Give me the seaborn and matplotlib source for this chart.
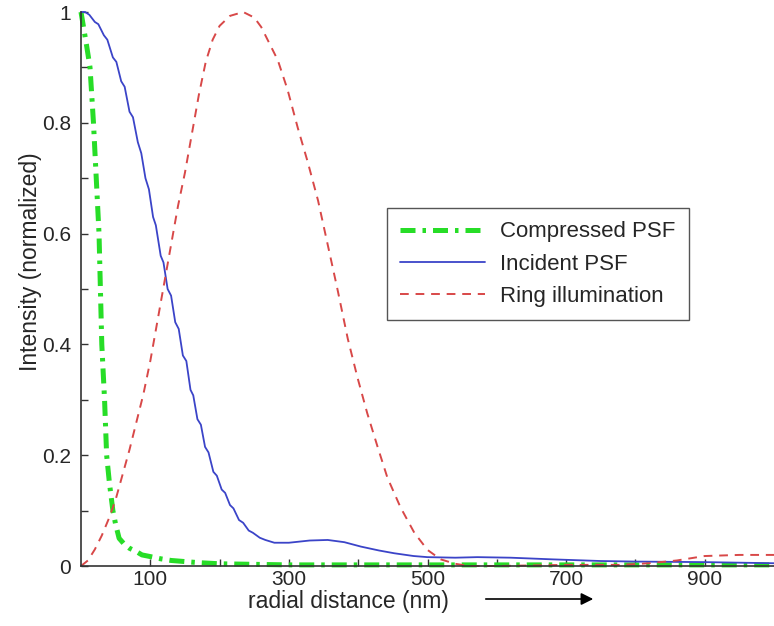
import numpy as np
import pandas as pd
import seaborn as sns
import matplotlib.pyplot as plt

# -----------------------------------------------------------------------
# Values (radial distance in nm)
# -----------------------------------------------------------------------
COMPRESSED_X = [0, 4, 8, 13, 18, 22, 26, 30, 34, 37, 41, 46, 50, 55, 62, 70,
                80, 88, 100, 115, 130, 150, 170, 200, 250, 300, 400, 600, 800, 1000]
COMPRESSED_Y = [1.0, 0.97, 0.94, 0.9, 0.8, 0.7, 0.6, 0.4, 0.3, 0.2, 0.15, 0.1,
                0.075, 0.05, 0.04, 0.032, 0.026, 0.02, 0.017, 0.013, 0.01, 0.008,
                0.006, 0.004, 0.003, 0.002, 0.002, 0.002, 0.002, 0.002]

# incident PSF is sampled coarsely -> small stair steps on the falling edge
INCIDENT_X = [0, 6, 12, 20, 25, 33, 38, 46, 51, 58, 63, 70, 75, 82, 87, 93, 98,
              104, 108, 115, 119, 125, 130, 136, 141, 147, 152, 158, 162, 168,
              173, 179, 184, 191, 196, 203, 208, 215, 220, 228, 234, 242, 248,
              258, 266, 279, 300, 330, 356, 380, 404, 430, 452, 480, 500, 540,
              572, 620, 680, 750, 800, 900, 1000]
INCIDENT_Y = [1.0, 1.0, 0.995, 0.982, 0.978, 0.958, 0.95, 0.918, 0.91, 0.875,
              0.865, 0.82, 0.81, 0.765, 0.745, 0.70, 0.68, 0.63, 0.615, 0.56,
              0.548, 0.5, 0.488, 0.44, 0.428, 0.38, 0.37, 0.318, 0.308, 0.265,
              0.255, 0.215, 0.205, 0.17, 0.163, 0.138, 0.132, 0.11, 0.104,
              0.083, 0.078, 0.064, 0.06, 0.051, 0.047, 0.042, 0.042, 0.046,
              0.047, 0.043, 0.035, 0.028, 0.023, 0.018, 0.016, 0.015, 0.016,
              0.015, 0.012, 0.009, 0.008, 0.007, 0.005]

RING_X = [0, 10, 20, 30, 40, 50, 60, 70, 80, 90, 100, 110, 120, 130, 140, 150,
          160, 170, 180, 190, 200, 215, 234, 250, 260, 284, 298, 313, 327, 342,
          356, 370, 385, 399, 413, 428, 442, 461, 481, 500, 519, 540, 560, 600,
          700, 780, 820, 860, 900, 950, 1000]
RING_Y = [0.0, 0.01, 0.03, 0.055, 0.085, 0.12, 0.165, 0.21, 0.26, 0.31, 0.37,
          0.44, 0.51, 0.58, 0.65, 0.71, 0.78, 0.85, 0.91, 0.95, 0.975, 0.993,
          1.0, 0.99, 0.973, 0.913, 0.86, 0.79, 0.73, 0.66, 0.58, 0.5, 0.41,
          0.34, 0.276, 0.215, 0.16, 0.106, 0.06, 0.029, 0.012, 0.004, 0.0,
          0.0, 0.002, 0.002, 0.005, 0.01, 0.018, 0.02, 0.02]

X_TICKS = [100, 200, 300, 400, 500, 600, 700, 800, 900]
X_TICK_LABELS = ["100", "", "300", "", "500", "", "700", "", "900"]
Y_TICKS = [0, 0.1, 0.2, 0.3, 0.4, 0.5, 0.6, 0.7, 0.8, 0.9, 1.0]
Y_TICK_LABELS = ["0", "", "0.2", "", "0.4", "", "0.6", "", "0.8", "", "1"]

SERIES = [
    ("Compressed PSF", COMPRESSED_X, COMPRESSED_Y,
     dict(color="#27dd27", linewidth=3.6, linestyle=(0, (3, 1.4, 0.7, 1.4)))),
    ("Incident PSF", INCIDENT_X, INCIDENT_Y,
     dict(color="#3b44c8", linewidth=1.3, linestyle="-")),
    ("Ring illumination", RING_X, RING_Y,
     dict(color="#d84848", linewidth=1.4, linestyle=(0, (4.5, 3.5)))),
]


def main():
    sns.set_style("ticks")
    plt.rcParams["font.family"] = ["Liberation Sans", "DejaVu Sans"]

    fig = plt.figure(figsize=(7.74, 6.26), dpi=100)
    ax = fig.add_axes([81 / 774, 1 - 566 / 626, 1 - 81 / 774, (566 - 12) / 626])

    for name, xs, ys, style in SERIES:
        df = pd.DataFrame({"x": xs, "y": ys})
        sns.lineplot(data=df, x="x", y="y", ax=ax, label=name, clip_on=False,
                     **style)

    ax.set_xlim(0, 1000)
    ax.set_ylim(0, 1)
    ax.set_xticks(X_TICKS)
    ax.set_xticklabels(X_TICK_LABELS)
    ax.set_yticks(Y_TICKS)
    ax.set_yticklabels(Y_TICK_LABELS)
    ax.tick_params(direction="in", length=5, width=1, color="#333333",
                   labelsize=15)
    ax.tick_params(axis="x", pad=3)
    ax.tick_params(axis="y", pad=7)
    sns.despine(ax=ax)
    for s in ("left", "bottom"):
        ax.spines[s].set_color("#333333")
        ax.spines[s].set_linewidth(1.2)

    ax.set_xlabel("radial distance (nm)", fontsize=16.5)
    ax.xaxis.set_label_coords((348 - 81) / 693, -0.043)
    ax.set_ylabel("Intensity (normalized)", fontsize=16.5)
    ax.yaxis.set_label_coords(-0.056, 0.55)

    # arrow after the x label
    ax.annotate("", xy=(596 / 774, 1 - 599 / 626), xycoords="figure fraction",
                xytext=(483 / 774, 1 - 599 / 626), textcoords="figure fraction",
                arrowprops=dict(arrowstyle="-|>", color="black", lw=1.2,
                                mutation_scale=18))

    leg = ax.legend(loc="upper left", bbox_to_anchor=(0.4416, 0.646),
                    borderaxespad=0, fontsize=16, handlelength=3.8,
                    handletextpad=0.7, labelspacing=0.5, fancybox=False,
                    framealpha=1, edgecolor="#555555", borderpad=0.6)
    leg.get_frame().set_linewidth(1.0)

    fig.savefig("out.png", dpi=100)
    plt.close(fig)


if __name__ == "__main__":
    main()
